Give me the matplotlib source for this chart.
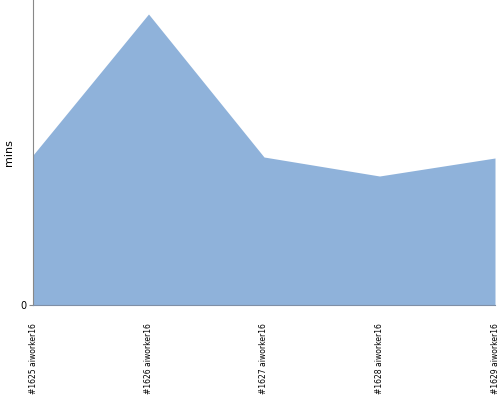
import matplotlib
matplotlib.use("Agg")
import matplotlib.pyplot as plt

builds = ["#1625 aiworker16", "#1626 aiworker16", "#1627 aiworker16",
          "#1628 aiworker16", "#1629 aiworker16"]
mins = [150, 291, 148, 129, 147]

fig = plt.figure(figsize=(5, 4), dpi=100)
ax = fig.add_axes([0.066, 0.2375, 0.924, 0.7625])

x = list(range(len(builds)))
ax.fill_between(x, mins, 0, color="#8fb2da", linewidth=0)

ax.set_xlim(0, len(builds) - 1)
ax.set_ylim(0, 305)
ax.set_yticks([0])
ax.set_xticks(x)
ax.set_xticklabels(builds, rotation=90, fontsize=6.1, fontstretch="condensed",
                   family="DejaVu Sans")
ax.tick_params(axis="x", length=0, pad=13)
ax.tick_params(axis="y", length=3, labelsize=7, pad=2, color="#888888")
ax.set_ylabel("mins", fontsize=8, labelpad=4)

for side in ("top", "right"):
    ax.spines[side].set_visible(False)
ax.spines["left"].set_color("#888888")
ax.spines["bottom"].set_color("#7f8fa6")

fig.savefig("out.png", dpi=100)
